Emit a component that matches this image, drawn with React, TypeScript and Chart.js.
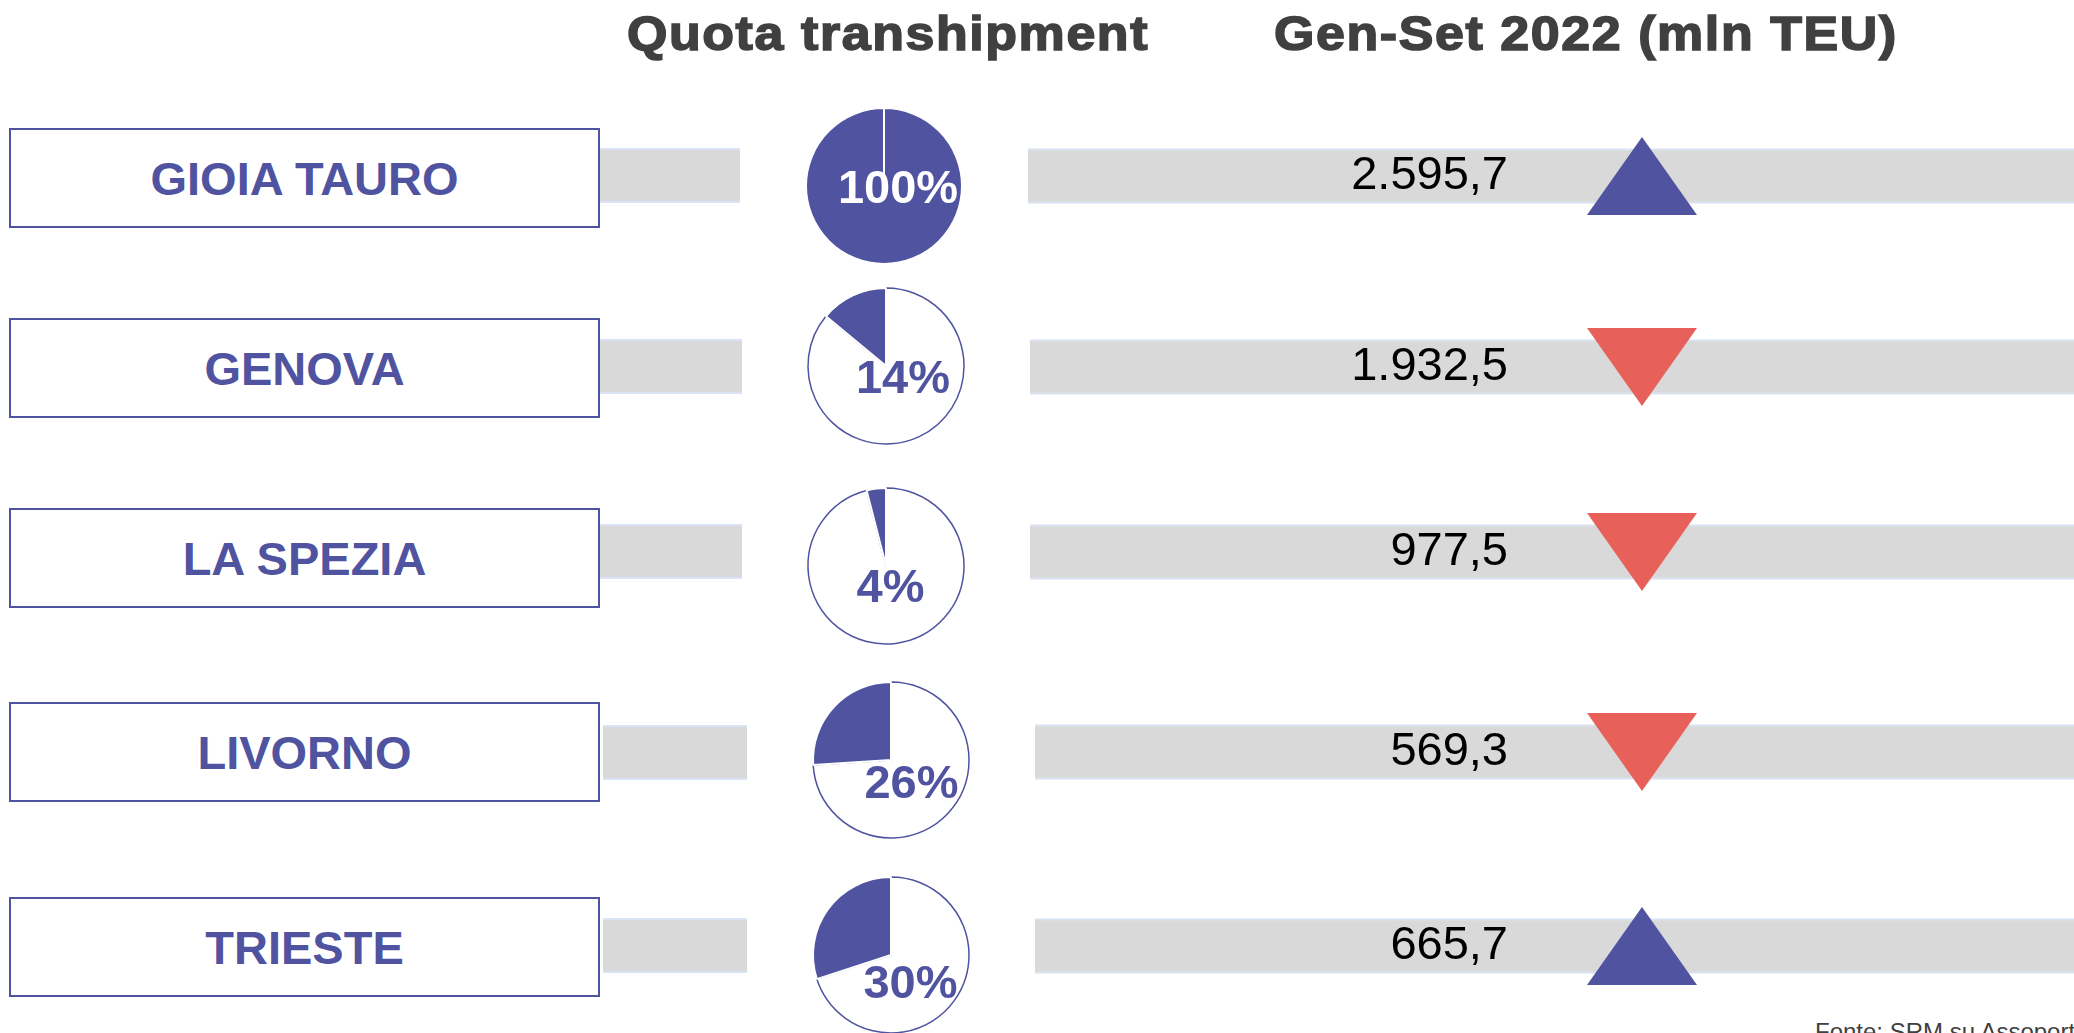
import React, { useEffect, useRef } from "react";
import { Chart, registerables } from "chart.js";

Chart.register(...registerables);

// ---------- data ----------
const ports = ["GIOIA TAURO", "GENOVA", "LA SPEZIA", "LIVORNO", "TRIESTE"];
const transhipmentShare = [100, 14, 4, 26, 30];
const genSet2022 = [2595.7, 1932.5, 977.5, 569.3, 665.7];
const trend = ["up", "down", "down", "down", "up"];
const titleShare = "Quota transhipment";
const titleVolume = "Gen-Set 2022 (mln TEU)";
const sourceNote = "Fonte: SRM su Assoporti";

// ---------- style / layout ----------
const BLUE = "#4F53A0";
const RED = "#E8605A";
const GREY = "#D9D9D9";
const EDGE = "#DAE3F3";
const DARK = "#404040";
const FONT = '"Liberation Sans", Arial, Helvetica, sans-serif';
const PAGE_W = 2074;
const PAGE_H = 1033;

const barMid = [175.5, 366.5, 551.5, 752, 945.5];
const boxTop = [128, 318, 508, 702, 897];
const pieCenter = [
  [884, 186],
  [886, 366],
  [886, 566],
  [891, 760],
  [891, 955],
];
const connectorX = [
  [600, 740],
  [600, 742],
  [600, 742],
  [603, 747],
  [603, 747],
];
const trackLeft = [1028, 1030, 1030, 1035, 1035];
const pctLabelOffset = [
  [14, 17],
  [17, 27],
  [4.5, 36],
  [20.5, 38],
  [19.5, 43],
];
const VALUE_RIGHT = 1508;
const MARKER_X = 1642;
const BAR_H = 55;
const PIE_R = 78;
const PIE_BOX = 180;
const TRACK_H = 120;

function fmtIt(v: number): string {
  const [i, d] = v.toFixed(1).split(".");
  return i.replace(/\B(?=(\d{3})+(?!\d))/g, ".") + "," + d;
}

function triangleImage(dir: string, color: string): HTMLCanvasElement {
  const w = 110;
  const h = 78;
  const c = document.createElement("canvas");
  c.width = w;
  c.height = h;
  const ctx = c.getContext("2d")!;
  ctx.fillStyle = color;
  ctx.beginPath();
  if (dir === "up") {
    ctx.moveTo(w / 2, 0);
    ctx.lineTo(w, h);
    ctx.lineTo(0, h);
  } else {
    ctx.moveTo(0, 0);
    ctx.lineTo(w, 0);
    ctx.lineTo(w / 2, h);
  }
  ctx.closePath();
  ctx.fill();
  return c;
}

function SharePie({ i }: { i: number }) {
  const ref = useRef<HTMLCanvasElement | null>(null);
  const [cx, cy] = pieCenter[i];
  useEffect(() => {
    const p = transhipmentShare[i];
    const [dx, dy] = pctLabelOffset[i];
    const chart = new Chart(ref.current!, {
      type: "pie",
      data: {
        labels: ["Altro", "Transhipment"],
        datasets: [
          {
            data: [100 - p, p],
            backgroundColor: ["#ffffff", BLUE],
            borderColor: [BLUE, "#ffffff"],
            borderWidth: [1.5, 2],
          },
        ],
      },
      options: {
        animation: false,
        responsive: false,
        radius: PIE_R,
        layout: { padding: 0 },
        plugins: { legend: { display: false }, tooltip: { enabled: false } },
      } as any,
      plugins: [
        {
          id: "pctLabel",
          afterDatasetsDraw(c: any) {
            const arc = c.getDatasetMeta(0).data[1];
            const ctx = c.ctx;
            ctx.save();
            ctx.font = `bold 47px ${FONT}`;
            ctx.textAlign = "center";
            ctx.textBaseline = "alphabetic";
            ctx.fillStyle = p >= 100 ? "#ffffff" : BLUE;
            ctx.fillText(`${p}%`, arc.x + dx, arc.y + dy);
            ctx.restore();
          },
        },
      ],
    });
    return () => chart.destroy();
  }, [i]);
  return (
    <canvas
      ref={ref}
      width={PIE_BOX}
      height={PIE_BOX}
      style={{
        position: "absolute",
        left: cx - PIE_BOX / 2,
        top: cy - PIE_BOX / 2,
        width: PIE_BOX,
        height: PIE_BOX,
      }}
    />
  );
}

function VolumeTrack({ i }: { i: number }) {
  const ref = useRef<HTMLCanvasElement | null>(null);
  const left = trackLeft[i];
  const w = PAGE_W - left;
  const top = barMid[i] - TRACK_H / 2;
  useEffect(() => {
    const markerFrac = (MARKER_X - left) / w;
    const img = triangleImage(trend[i], trend[i] === "up" ? BLUE : RED);
    const chart = new Chart(ref.current!, {
      type: "bar",
      data: {
        labels: [ports[i]],
        datasets: [
          {
            type: "bar",
            data: [1],
            backgroundColor: GREY,
            borderColor: EDGE,
            borderWidth: { top: 2, bottom: 2, left: 0, right: 0 },
            borderSkipped: false,
            barThickness: BAR_H,
            clip: false,
            order: 2,
          },
          {
            type: "line",
            indexAxis: "y",
            data: [markerFrac],
            showLine: false,
            pointStyle: img,
            pointRadius: 40,
            clip: false,
            order: 1,
          },
        ],
      } as any,
      options: {
        indexAxis: "y",
        animation: false,
        responsive: false,
        layout: { padding: 0, autoPadding: false },
        scales: {
          x: { type: "linear", min: 0, max: 1, display: false },
          y: { type: "category", display: false },
        },
        plugins: { legend: { display: false }, tooltip: { enabled: false } },
      } as any,
      plugins: [
        {
          id: "valueLabel",
          afterDatasetsDraw(c: any) {
            const bar = c.getDatasetMeta(0).data[0];
            const ctx = c.ctx;
            ctx.save();
            ctx.font = `47px ${FONT}`;
            ctx.textAlign = "right";
            ctx.textBaseline = "alphabetic";
            ctx.fillStyle = "#000000";
            ctx.fillText(fmtIt(genSet2022[i]), VALUE_RIGHT - left, bar.y + 13);
            ctx.restore();
          },
        },
      ],
    });
    return () => chart.destroy();
  }, [i]);
  return (
    <canvas
      ref={ref}
      width={w}
      height={TRACK_H}
      style={{ position: "absolute", left, top, width: w, height: TRACK_H }}
    />
  );
}

function Row({ i }: { i: number }) {
  const [x0, x1] = connectorX[i];
  return (
    <>
      <div
        style={{
          position: "absolute",
          left: x0,
          top: barMid[i] - BAR_H / 2,
          width: x1 - x0,
          height: BAR_H,
          background: GREY,
          borderTop: `2px solid ${EDGE}`,
          borderBottom: `2px solid ${EDGE}`,
          boxSizing: "border-box",
        }}
      />
      <div
        style={{
          position: "absolute",
          left: 9,
          top: boxTop[i],
          width: 591,
          height: 100,
          border: `2.5px solid ${BLUE}`,
          boxSizing: "border-box",
          background: "#ffffff",
          display: "flex",
          alignItems: "center",
          justifyContent: "center",
          font: `bold 47px ${FONT}`,
          color: BLUE,
          whiteSpace: "nowrap",
        }}
      >
        {ports[i]}
      </div>
      <SharePie i={i} />
      <VolumeTrack i={i} />
    </>
  );
}

export default function App() {
  useEffect(() => {
    document.body.style.margin = "0";
  }, []);
  const titleStyle: React.CSSProperties = {
    position: "absolute",
    top: 8.5,
    font: `bold 49px ${FONT}`,
    lineHeight: "49px",
    letterSpacing: "1.5px",
    color: DARK,
    WebkitTextStroke: `1.6px ${DARK}`,
    whiteSpace: "nowrap",
    transform: "scaleX(1.06)",
    transformOrigin: "left top",
  };
  return (
    <div
      style={{
        position: "absolute",
        left: 0,
        top: 0,
        width: PAGE_W,
        height: PAGE_H,
        overflow: "hidden",
        background: "#ffffff",
      }}
    >
      <div style={{ ...titleStyle, left: 627 }}>{titleShare}</div>
      <div style={{ ...titleStyle, left: 1274 }}>{titleVolume}</div>
      {ports.map((_, i) => (
        <Row key={i} i={i} />
      ))}
      <div
        style={{
          position: "absolute",
          left: 1815,
          top: 1020,
          font: `24px ${FONT}`,
          lineHeight: "24px",
          color: DARK,
          whiteSpace: "nowrap",
        }}
      >
        {sourceNote}
      </div>
    </div>
  );
}
